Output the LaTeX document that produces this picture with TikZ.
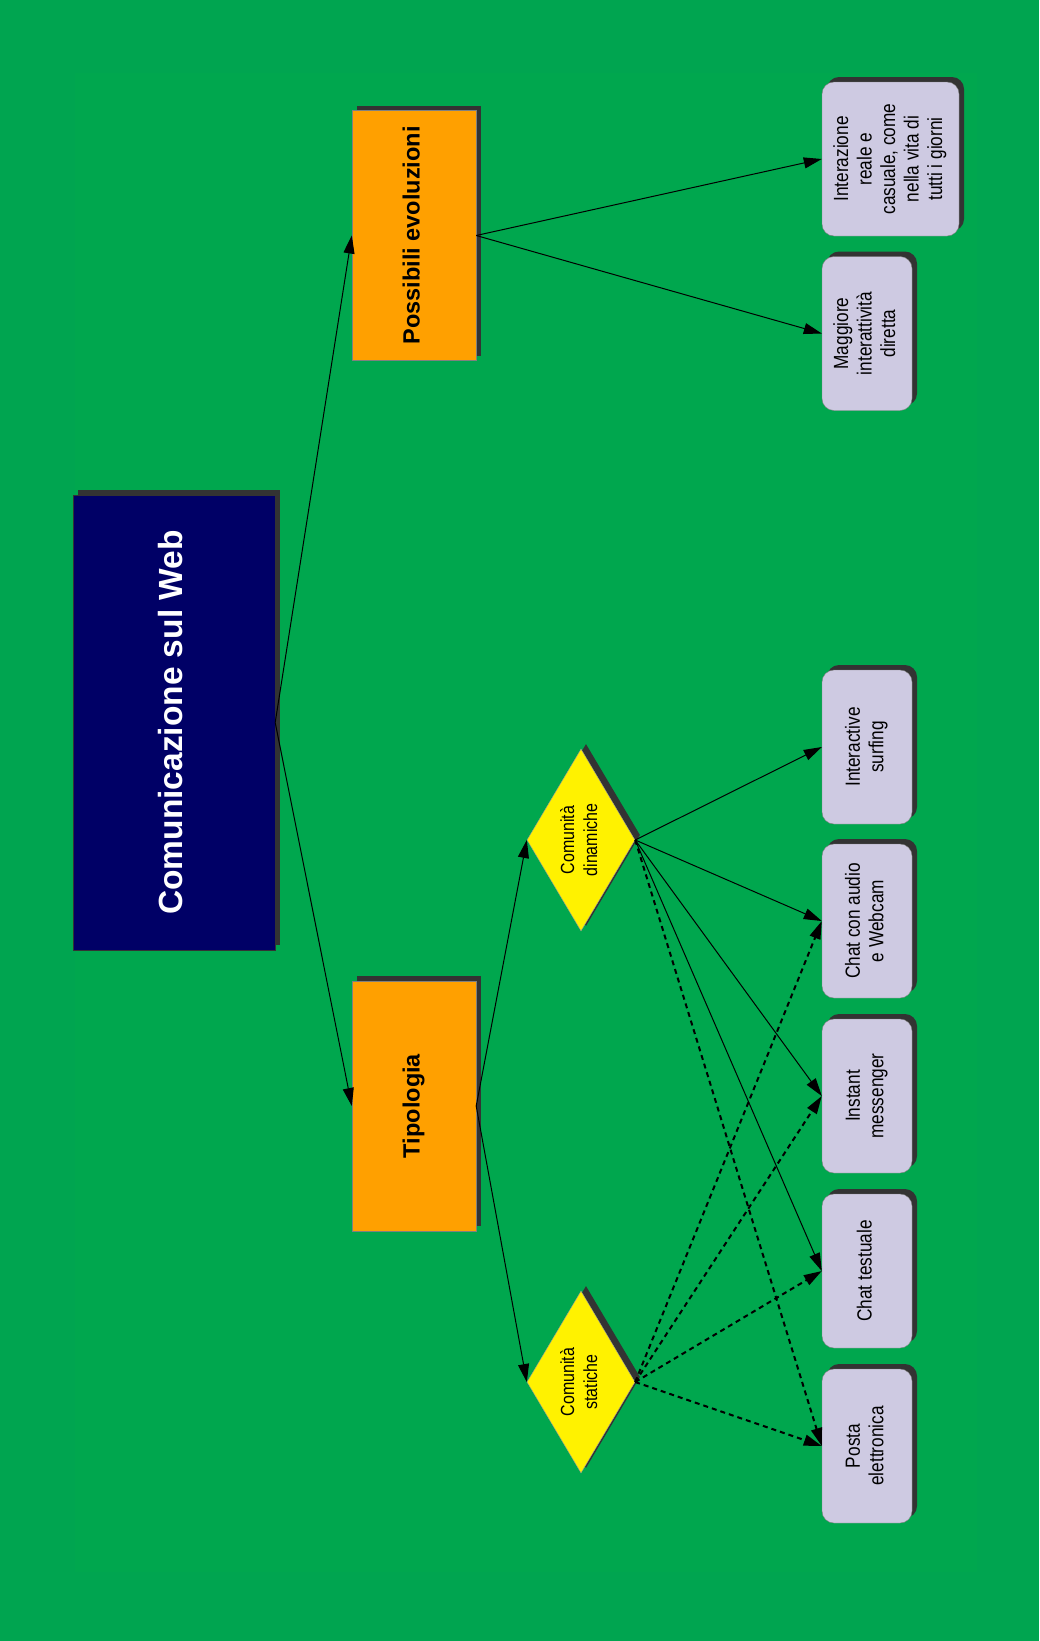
\documentclass[tikz,border=0pt]{standalone}
\usepackage{fontspec}
\setmainfont{Liberation Sans}
\newfontfamily\narrowfont[FakeStretch=0.84]{Liberation Sans}
\usepackage{xcolor}
\usetikzlibrary{arrows.meta}
\usetikzlibrary{shapes,shadows}
\definecolor{bggreen}{RGB}{0,165,80}
\definecolor{panelgreen}{RGB}{0,167,78}
\definecolor{navy}{RGB}{0,0,102}
\definecolor{boxorange}{RGB}{255,160,0}
\definecolor{lavender}{RGB}{206,202,226}
\definecolor{shadowgray}{RGB}{51,51,51}
\newcommand{\uptext}[1]{\rotatebox{90}{\begin{tabular}{@{}c@{}}#1\end{tabular}}}
\tikzset{
    boxshadow/.style={
        drop shadow={shadow xshift=5pt, shadow yshift=5pt, fill=shadowgray, opacity=1}
    },
    titlebox/.style={
        draw=shadowgray,
        fill=navy,
        text=white,
        minimum width=202pt,
        minimum height=455pt,
        inner sep=0pt,
        font=\fontsize{33.5}{40}\selectfont\bfseries,
        boxshadow
    },
    headbox/.style={
        draw=black!50,
        fill=boxorange,
        minimum width=124pt,
        minimum height=250pt,
        inner sep=0pt,
        font=\fontsize{23.5}{28}\selectfont\bfseries,
        boxshadow
    },
    kindbox/.style={
        draw=black!40,
        diamond,
        fill=yellow,
        minimum width=108pt,
        minimum height=182pt,
        shape aspect=0.6,
        inner sep=0pt,
        font=\narrowfont\fontsize{19}{23}\selectfont,
        boxshadow
    },
    itembox/.style={
        draw=black!50,
        fill=lavender,
        rounded corners=12pt,
        minimum width=90pt,
        minimum height=154pt,
        inner sep=0pt,
        font=\narrowfont\fontsize{20.5}{23.5}\selectfont,
        boxshadow
    },
    link/.style={
        draw,
        line width=1pt,
        -{Triangle[length=18pt, width=11pt]}
    },
    dashlink/.style={
        link,
        line width=2pt,
        dash pattern=on 5pt off 4pt
    }
}

\begin{document}
\begin{tikzpicture}[x=1pt, y=-1pt]
    % background
    \fill[bggreen] (0,0) rectangle (1039,1641);
    \fill[panelgreen] (75,73) rectangle (977,1572);

    \node[titlebox] (web) at (174,722.5) {\uptext{Comunicazione sul Web}};
    \node[headbox] (evo) at (414,235.5) {\uptext{Possibili evoluzioni}};
    \node[headbox] (tipo) at (414,1106) {\uptext{Tipologia}};

    \node[itembox, minimum width=137pt] (inter) at (890.5,159) {\uptext{Interazione\\reale e\\casuale, come\\nella vita di\\tutti i giorni}};
    \node[itembox] (magg) at (867,333.5) {\uptext{Maggiore\\interattività\\diretta}};

    \node[kindbox] (dyn) at (581,840) {\uptext{Comunità\\dinamiche}};
    \node[kindbox] (sta) at (581,1382) {\uptext{Comunità\\statiche}};

    \node[itembox] (surf) at (867,747) {\uptext{Interactive\\surfing}};
    \node[itembox] (cam) at (867,921) {\uptext{Chat con audio\\e Webcam}};
    \node[itembox] (im) at (867,1096) {\uptext{Instant\\messenger}};
    \node[itembox] (chat) at (867,1271) {\uptext{Chat testuale}};
    \node[itembox] (mail) at (867,1446) {\uptext{Posta\\elettronica}};

    \draw[link] (web.east) -- (evo.west);
    \draw[link] (web.east) -- (tipo.west);
    \draw[link] (evo.east) -- (inter.west);
    \draw[link] (evo.east) -- (magg.west);
    \draw[link] (tipo.east) -- (dyn.west);
    \draw[link] (tipo.east) -- (sta.west);

    % comunita dinamiche
    \draw[link] (dyn.east) -- (surf.west);
    \draw[link] (dyn.east) -- (cam.west);
    \draw[link] (dyn.east) -- (im.west);
    \draw[link] (dyn.east) -- (chat.west);
    \draw[dashlink] (dyn.east) -- (mail.west);

    % comunita statiche
    \draw[dashlink] (sta.east) -- (cam.west);
    \draw[dashlink] (sta.east) -- (im.west);
    \draw[dashlink] (sta.east) -- (chat.west);
    \draw[dashlink] (sta.east) -- (mail.west);
\end{tikzpicture}
\end{document}
